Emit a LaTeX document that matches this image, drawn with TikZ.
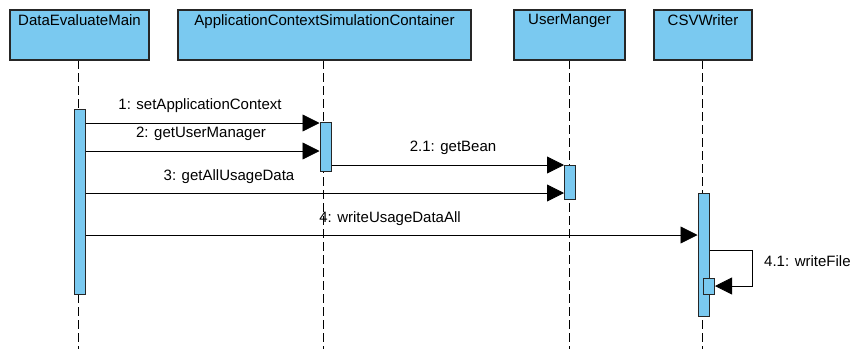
\documentclass[tikz,border=0pt]{standalone}
\usepackage{fontspec}
\setmainfont{Liberation Sans}
\usetikzlibrary{arrows.meta}
\definecolor{barblue}{RGB}{122,201,240}
\tikzset{
    lifebox/.style={draw=black!85, fill=barblue, line width=1.2pt,
        minimum height=50, inner sep=0pt},
    actbar/.style={draw=black!85, fill=barblue, line width=1pt,
        minimum width=11, inner sep=0pt},
    lifeline/.style={dash pattern=on 9pt off 4pt, line width=0.8pt},
    msg/.style={line width=0.8pt, -{Triangle[length=17pt,width=17pt]}},
    msglabel/.style={font=\fontsize{15}{17}\selectfont, inner sep=0pt}
}
\begin{document}
\begin{tikzpicture}[x=1pt, y=-1pt, font=\fontsize{15}{17}\selectfont]
                \useasboundingbox (0, 0) rectangle (851, 349);
                % lifelines
                \draw [lifeline] (78, 60) -- (78, 349);
                \draw [lifeline] (323, 60) -- (323, 349);
                \draw [lifeline] (569, 60) -- (569, 349);
                \draw [lifeline] (702, 60) -- (702, 349);
                % heads
                \node [lifebox, minimum width=139,
                    label={[inner sep=0pt, anchor=north, yshift=-5pt]north:DataEvaluateMain}]
                    (main) at (79.5, 35) {};
                \node [lifebox, minimum width=293,
                    label={[inner sep=0pt, anchor=north, yshift=-5pt]north:ApplicationContextSimulationContainer}]
                    (ctx) at (324.5, 35) {};
                \node [lifebox, minimum width=111,
                    label={[inner sep=0pt, anchor=north, yshift=-5pt]north:UserManger}]
                    (user) at (569.5, 35) {};
                \node [lifebox, minimum width=98,
                    label={[inner sep=0pt, anchor=north, yshift=-5pt]north:CSVWriter}]
                    (csv) at (703, 35) {};
                % activations
                \node [actbar, minimum height=185] (mainbar) at (79.5, 201.5) {};
                \node [actbar, minimum height=49] (ctxbar) at (325.5, 146.5) {};
                \node [actbar, minimum height=34] (userbar) at (570, 182) {};
                \node [actbar, minimum height=123] (csvbar) at (703.5, 254.5) {};
                \node [actbar, minimum height=16] (filebar) at (709, 286) {};
                % messages
                \coordinate (m1) at (0, 123);
                \coordinate (m2) at (0, 151);
                \coordinate (m21) at (0, 165);
                \coordinate (m3) at (0, 193);
                \coordinate (m4) at (0, 235);
                \coordinate (m41) at (752, 250);
                \draw [msg] (mainbar.east |- m1) -- (ctxbar.west |- m1);
                \draw [msg] (mainbar.east |- m2) -- (ctxbar.west |- m2);
                \draw [msg] (ctxbar.east |- m21) -- (userbar.west |- m21);
                \draw [msg] (mainbar.east |- m3) -- (userbar.west |- m3);
                \draw [msg] (mainbar.east |- m4) -- (csvbar.west |- m4);
                \draw [msg] (csvbar.east |- m41) -- (m41) |- (filebar.east);
                \node [msglabel] at (200, 106) {1: setApplicationContext};
                \node [msglabel] at (201, 134) {2: getUserManager};
                \node [msglabel] at (453, 148) {2.1: getBean};
                \node [msglabel] at (229, 177) {3: getAllUsageData};
                \node [msglabel] at (390, 219) {4: writeUsageDataAll};
                \node [msglabel, anchor=west] at (764, 261) {4.1: writeFile};
            \end{tikzpicture}
\end{document}
